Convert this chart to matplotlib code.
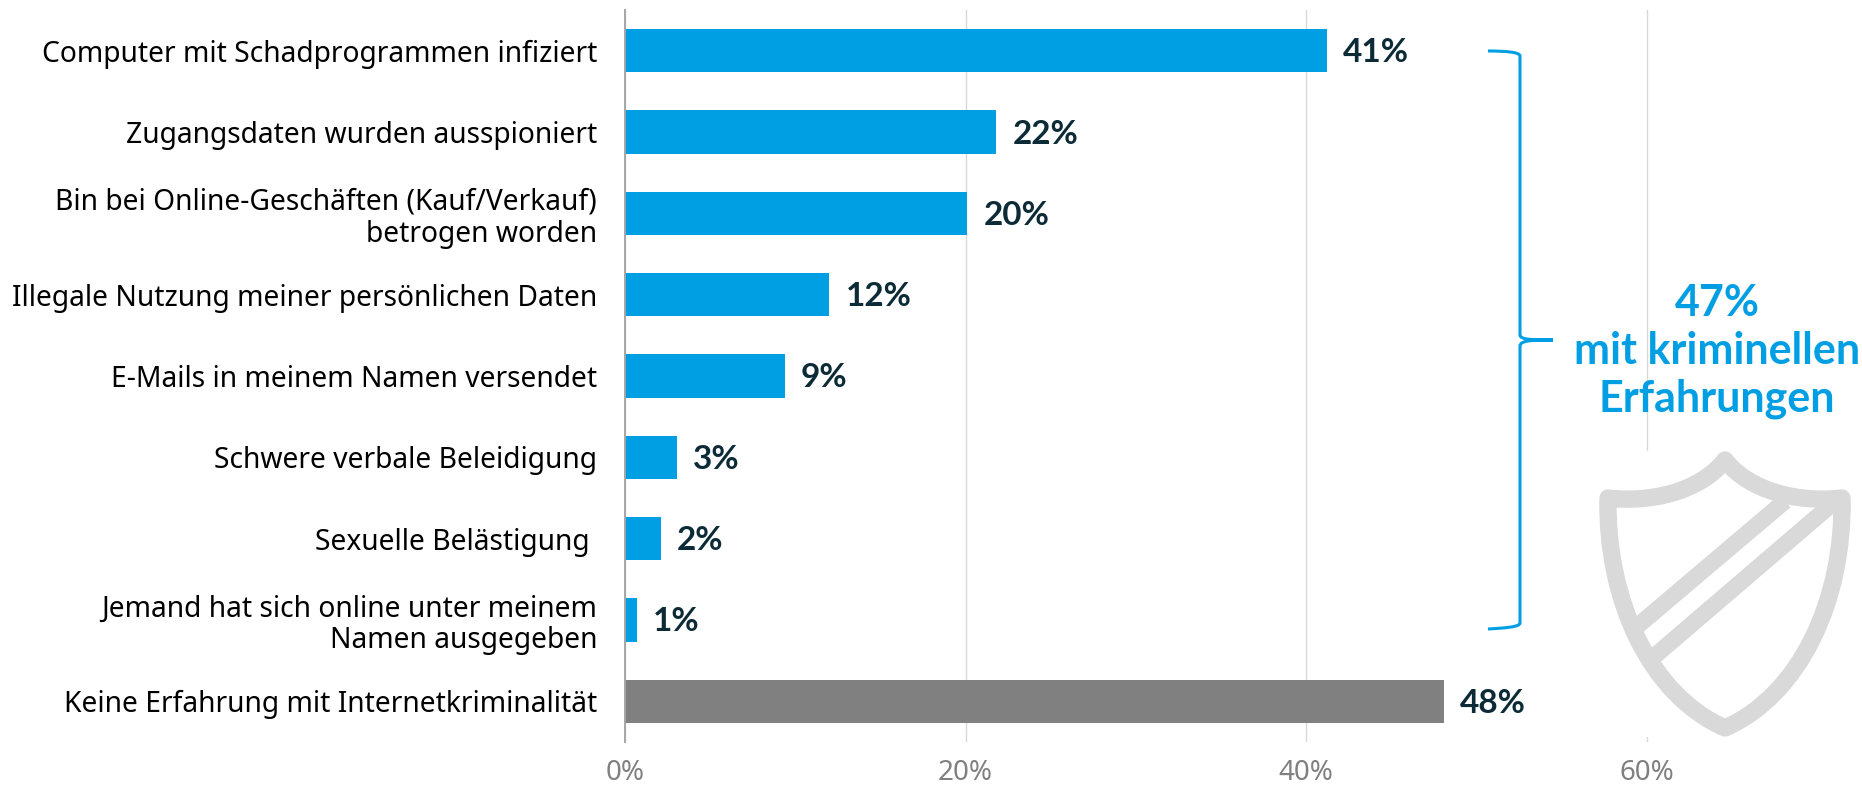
import matplotlib
matplotlib.use('Agg')
import matplotlib.patches
from matplotlib.path import Path
from matplotlib import pyplot as plt

plt.rcParams['font.family'] = ['Noto Sans', 'DejaVu Sans']
BOLD_FONT = ['Lato', 'DejaVu Sans']

categories = ['Computer mit Schadprogrammen infiziert',
              'Zugangsdaten wurden ausspioniert',
              'Bin bei Online-Geschäften (Kauf/Verkauf)\nbetrogen worden',
              'Illegale Nutzung meiner persönlichen Daten',
              'E-Mails in meinem Namen versendet',
              'Schwere verbale Beleidigung',
              'Sexuelle Belästigung ',
              'Jemand hat sich online unter meinem\nNamen ausgegeben',
              'Keine Erfahrung mit Internetkriminalität']
values = [41.2, 21.8, 20.1, 12.0, 9.4, 3.05, 2.1, 0.7, 48.1]
value_labels = ['41%', '22%', '20%', '12%', '9%', '3%', '2%', '1%', '48%']
xticks = [0, 20, 40, 60]
xticklabels = ['0%', '20%', '40%', '60%']
summary_text = '47%\nmit kriminellen\nErfahrungen'

BLUE = '#009fe3'
GREY = '#808080'
DARK = '#0c2b36'
W, H = 1862, 785

fig = plt.figure(figsize=(W/100, H/100), dpi=100)
# axes box in pixels: x 625..1862, y 10..742
ax = fig.add_axes([625/W, 1-742/H, (W-625)/W, 732/H])
ax.set_xlim(0, (W-625)/17.03)
ax.set_ylim(8.5, -0.5)

colors = [BLUE]*8 + [GREY]
ax.barh(range(len(values)), values, height=0.53, color=colors, zorder=3)
for i, (v, lab) in enumerate(zip(values, value_labels)):
    ax.annotate(lab, (v, i), xytext=(16, -2), textcoords='offset pixels', family=BOLD_FONT,
                va='center', ha='left', fontsize=24, fontweight='bold', color=DARK, zorder=4)

ax.set_yticks(range(len(categories)))
ax.set_yticklabels(categories, fontsize=20.3, color='black', linespacing=1.13)
ax.set_xticks(xticks)
ax.set_xticklabels(xticklabels, fontsize=20, color=GREY)
ax.tick_params(axis='y', length=0, pad=20)
ax.tick_params(axis='x', length=0, pad=12)
ax.grid(axis='x', color='#d9d9d9', linewidth=1.0, zorder=0)
for s in ['top', 'right', 'bottom']:
    ax.spines[s].set_visible(False)
ax.spines['left'].set_color('#a6a6a6')
ax.spines['left'].set_linewidth(1.4)
ax.spines['left'].set_zorder(5)

# overlay in pixel coordinates for the brace and shield
ov = fig.add_axes([0, 0, 1, 1], zorder=5)
ov.set_xlim(0, W)
ov.set_ylim(H, 0)
ov.axis('off')
ov.patch.set_alpha(0)

M, L, C = Path.MOVETO, Path.LINETO, Path.CURVE4
brace = Path([(1488, 51), (1505, 51), (1520, 52), (1520, 56),
              (1520, 335), (1520, 340), (1535, 340), (1553, 340),
              (1535, 340), (1520, 340), (1520, 346),
              (1520, 623), (1520, 627), (1505, 628), (1488, 629)],
             [M, C, C, C, L, C, C, C, C, C, C, L, C, C, C])
ov.add_patch(matplotlib.patches.PathPatch(brace, fc='none', ec=BLUE, lw=2.2))

ov.text(1717, 351, summary_text, ha='center', va='center', fontsize=31, fontweight='bold',
        family=BOLD_FONT, color=BLUE, linespacing=1.22)

# the shield sits on a white box that hides the 60% gridline
ov.add_patch(matplotlib.patches.Rectangle((1598, 451), 256, 286, fc='white', ec='none'))
shield = Path([(1725, 460), (1700, 492), (1650, 503), (1608, 498),
               (1606, 600), (1650, 695), (1725, 728),
               (1800, 695), (1844, 600), (1842, 498),
               (1800, 503), (1750, 492), (1725, 460), (1725, 460)],
              [M, C, C, C, C, C, C, C, C, C, C, C, C, Path.CLOSEPOLY])
ov.add_patch(matplotlib.patches.PathPatch(shield, fc='none', ec='#d9d9d9', lw=12.5, joinstyle='round'))
ov.plot([1634, 1785], [629, 501], color='#d9d9d9', lw=12, solid_capstyle='butt')
ov.plot([1650, 1832], [660, 504], color='#d9d9d9', lw=12, solid_capstyle='butt')

fig.savefig('out.png', dpi=100)
